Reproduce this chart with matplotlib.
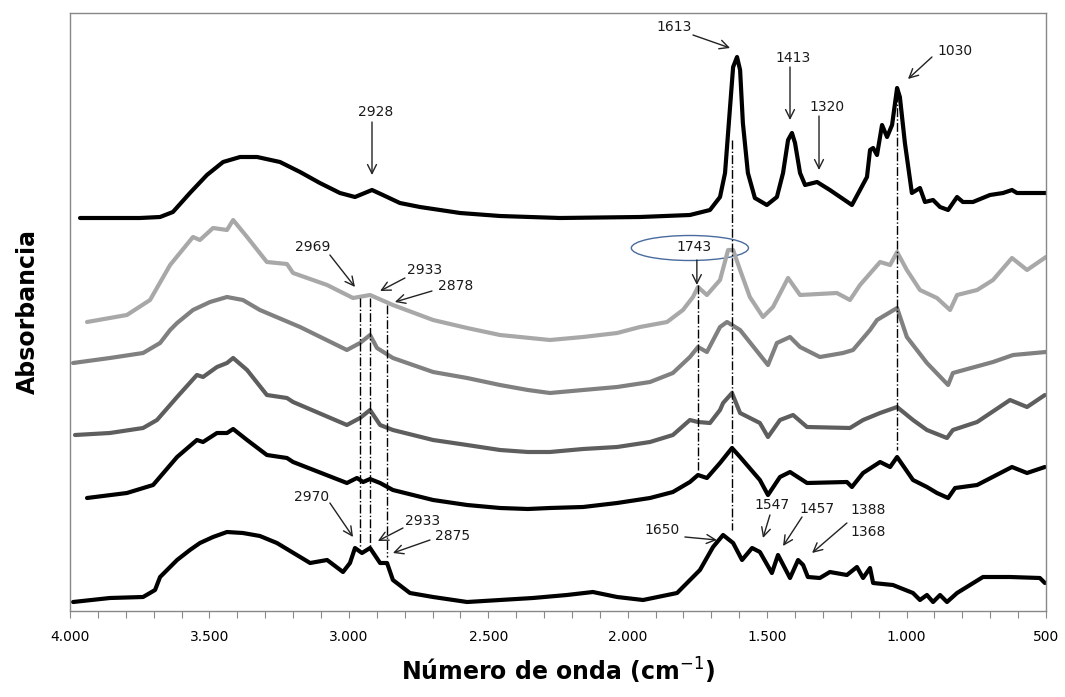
import numpy as np
import matplotlib
matplotlib.use("Agg")
import matplotlib.pyplot as plt
from matplotlib.patches import Ellipse
from matplotlib.ticker import MultipleLocator, FuncFormatter

# espectros FTIR (numero de onda en cm-1, absorbancia en u.a., desplazadas)
wn_1 = [3964, 3749, 3677, 3631, 3570, 3509, 3451, 3390, 3329, 3247, 3175, 3104, 3032, 2978,
        2917, 2878, 2817, 2745, 2601, 2458, 2243, 1956, 1777, 1705, 1669, 1651, 1633, 1622,
        1608, 1597, 1587, 1569, 1544, 1501, 1465, 1443, 1425, 1411, 1400, 1382, 1364, 1321,
        1275, 1196, 1167, 1142, 1131, 1120, 1106, 1088, 1070, 1052, 1034, 1024, 1006, 981,
        952, 934, 905, 880, 851, 819, 798, 762, 701, 654, 622, 604, 500]
abs_1 = [3.93, 3.93, 3.94, 3.99, 4.18, 4.36, 4.49, 4.54, 4.54, 4.49, 4.39, 4.28, 4.18, 4.14,
         4.21, 4.16, 4.08, 4.04, 3.98, 3.95, 3.93, 3.94, 3.96, 4.01, 4.14, 4.38, 5.04, 5.44,
         5.54, 5.41, 4.88, 4.38, 4.13, 4.06, 4.14, 4.38, 4.71, 4.78, 4.68, 4.38, 4.26, 4.29,
         4.21, 4.06, 4.21, 4.34, 4.61, 4.63, 4.56, 4.86, 4.74, 4.86, 5.23, 5.14, 4.68, 4.18,
         4.23, 4.09, 4.11, 4.04, 4.01, 4.14, 4.09, 4.09, 4.16, 4.18, 4.21, 4.18, 4.18]

wn_2 = [3939, 3796, 3713, 3641, 3559, 3534, 3487, 3437, 3415, 3365, 3294, 3222, 3200, 3078,
        2985, 2924, 2842, 2698, 2576, 2458, 2279, 2160, 2038, 1956, 1859, 1802, 1766, 1748,
        1716, 1669, 1640, 1622, 1597, 1562, 1515, 1479, 1425, 1382, 1250, 1203, 1167, 1095,
        1059, 1034, 999, 952, 891, 844, 819, 747, 690, 622, 568, 500]
abs_2 = [2.89, 2.96, 3.11, 3.46, 3.74, 3.71, 3.83, 3.81, 3.91, 3.74, 3.49, 3.47, 3.38, 3.26,
         3.13, 3.16, 3.06, 2.91, 2.83, 2.76, 2.71, 2.74, 2.78, 2.84, 2.89, 3.01, 3.14, 3.24,
         3.16, 3.31, 3.61, 3.61, 3.41, 3.14, 2.94, 3.04, 3.33, 3.16, 3.18, 3.11, 3.26, 3.49,
         3.46, 3.59, 3.41, 3.21, 3.13, 3.01, 3.16, 3.21, 3.31, 3.53, 3.41, 3.54]

wn_3 = [3989, 3857, 3738, 3677, 3641, 3616, 3559, 3498, 3437, 3380, 3319, 3175, 3007, 2960,
        2924, 2899, 2842, 2698, 2576, 2458, 2358, 2279, 2160, 2038, 1920, 1838, 1777, 1748,
        1716, 1669, 1644, 1597, 1497, 1465, 1418, 1382, 1311, 1228, 1192, 1131, 1106, 1034,
        999, 927, 851, 834, 690, 618, 500]
abs_3 = [2.48, 2.53, 2.58, 2.68, 2.81, 2.88, 3.01, 3.09, 3.14, 3.11, 3.01, 2.84, 2.61, 2.68,
         2.76, 2.63, 2.53, 2.39, 2.33, 2.26, 2.21, 2.18, 2.21, 2.24, 2.29, 2.38, 2.54, 2.64,
         2.59, 2.84, 2.89, 2.81, 2.46, 2.68, 2.74, 2.64, 2.54, 2.58, 2.61, 2.81, 2.91, 3.03,
         2.74, 2.48, 2.26, 2.38, 2.49, 2.56, 2.59]

wn_4 = [3982, 3857, 3738, 3688, 3616, 3545, 3523, 3473, 3437, 3415, 3365, 3294, 3222, 3200,
        3007, 2960, 2924, 2888, 2842, 2698, 2576, 2458, 2358, 2279, 2160, 2038, 1920, 1838,
        1777, 1748, 1705, 1669, 1658, 1626, 1597, 1526, 1497, 1454, 1407, 1357, 1203, 1156,
        1095, 1034, 977, 927, 855, 834, 747, 629, 568, 504]
abs_4 = [1.76, 1.78, 1.83, 1.91, 2.14, 2.36, 2.34, 2.44, 2.48, 2.53, 2.41, 2.16, 2.13, 2.09,
         1.86, 1.93, 2.01, 1.86, 1.81, 1.71, 1.66, 1.61, 1.59, 1.59, 1.62, 1.64, 1.69, 1.76,
         1.91, 1.89, 1.88, 2.01, 2.08, 2.18, 1.98, 1.88, 1.74, 1.91, 1.96, 1.84, 1.83, 1.91,
         1.98, 2.04, 1.91, 1.81, 1.73, 1.81, 1.89, 2.11, 2.04, 2.16]

wn_5 = [3939, 3796, 3702, 3616, 3545, 3523, 3473, 3437, 3415, 3365, 3294, 3222, 3200, 3007,
        2971, 2949, 2924, 2888, 2842, 2698, 2576, 2458, 2358, 2279, 2160, 2038, 1920, 1838,
        1777, 1748, 1716, 1669, 1626, 1597, 1526, 1497, 1454, 1418, 1357, 1214, 1196, 1156,
        1095, 1059, 1034, 977, 927, 891, 851, 826, 747, 622, 568, 504]
abs_5 = [1.13, 1.18, 1.26, 1.54, 1.71, 1.69, 1.78, 1.78, 1.82, 1.71, 1.56, 1.53, 1.49, 1.28,
         1.33, 1.29, 1.32, 1.28, 1.21, 1.11, 1.06, 1.03, 1.02, 1.03, 1.04, 1.08, 1.13, 1.19,
         1.29, 1.36, 1.33, 1.48, 1.63, 1.54, 1.31, 1.16, 1.34, 1.39, 1.28, 1.29, 1.24, 1.38,
         1.49, 1.44, 1.54, 1.31, 1.24, 1.18, 1.13, 1.23, 1.26, 1.44, 1.38, 1.44]

wn_6 = [3989, 3857, 3738, 3695, 3677, 3616, 3570, 3534, 3487, 3437, 3380, 3319, 3258, 3139,
        3078, 3021, 2996, 2978, 2953, 2924, 2888, 2863, 2842, 2781, 2698, 2576, 2458, 2340,
        2218, 2125, 2038, 1945, 1823, 1741, 1694, 1658, 1622, 1590, 1554, 1526, 1483, 1461,
        1418, 1389, 1371, 1354, 1311, 1275, 1214, 1178, 1156, 1131, 1120, 1049, 977, 952,
        927, 905, 880, 855, 819, 726, 629, 522, 504]
abs_6 = [0.09, 0.13, 0.14, 0.21, 0.34, 0.51, 0.61, 0.68, 0.74, 0.79, 0.78, 0.75, 0.68, 0.48,
         0.51, 0.39, 0.48, 0.63, 0.58, 0.63, 0.48, 0.48, 0.31, 0.18, 0.14, 0.09, 0.11, 0.13,
         0.16, 0.19, 0.14, 0.11, 0.18, 0.41, 0.64, 0.76, 0.68, 0.51, 0.63, 0.59, 0.38, 0.56,
         0.33, 0.51, 0.46, 0.34, 0.33, 0.39, 0.36, 0.44, 0.33, 0.43, 0.28, 0.26, 0.18, 0.11,
         0.16, 0.09, 0.16, 0.09, 0.18, 0.34, 0.34, 0.33, 0.28]

series = [(wn_1, abs_1, "black"), (wn_2, abs_2, "#a8a8a8"), (wn_3, abs_3, "#808080"),
          (wn_4, abs_4, "#5e5e5e"), (wn_5, abs_5, "black"), (wn_6, abs_6, "black")]

# lineas de referencia (posicion, y_inicio, y_fin)
ref_lines = [(2960, 3.13, 0.64), (2924, 3.13, 0.64), (2863, 3.06, 0.54),
             (1748, 3.26, 1.41), (1626, 4.71, 0.81), (1034, 5.18, 1.61)]

# etiquetas: texto, posicion del texto, cola y punta de flecha
labels = [("2928", (2903, 4.99), (2917, 4.89), (2917, 4.36)),
          ("1613", (1834, 5.84), (1766, 5.76), (1633, 5.63)),
          ("1413", (1407, 5.53), (1418, 5.44), (1418, 4.91)),
          ("1320", (1285, 5.04), (1314, 4.95), (1314, 4.41)),
          ("1030", (826, 5.60), (909, 5.54), (995, 5.32)),
          ("1743", (1762, 3.64), (1752, 3.51), (1752, 3.26)),
          ("2969", (3129, 3.64), (3068, 3.56), (2978, 3.24)),
          ("2933", (2727, 3.41), (2799, 3.33), (2888, 3.20)),
          ("2878", (2616, 3.25), (2702, 3.20), (2835, 3.09)),
          ("2970", (3132, 1.14), (3068, 1.08), (2985, 0.74)),
          ("2933", (2734, 0.90), (2806, 0.83), (2896, 0.70)),
          ("2875", (2627, 0.75), (2709, 0.71), (2842, 0.58)),
          ("1650", (1877, 0.81), (1795, 0.74), (1680, 0.71)),
          ("1547", (1483, 1.06), (1490, 0.96), (1515, 0.73)),
          ("1457", (1321, 1.02), (1375, 0.94), (1443, 0.65)),
          ("1388\n\n1368", (1138, 0.90), (1214, 0.88), (1339, 0.58))]

fig = plt.figure(figsize=(10.65, 6.97), dpi=100)
ax = fig.add_axes([70 / 1065, 86 / 697, 976 / 1065, 598 / 697])

for wn, a, c in series:
    ax.plot(wn, a, color=c, lw=3, solid_joinstyle="round", solid_capstyle="round")

for x, y0, y1 in ref_lines:
    ax.plot([x, x], [y0, y1], color="black", lw=1, ls="-.")

for txt, pos, tail, head in labels:
    ax.text(pos[0], pos[1], txt, ha="center", va="center", fontsize=10, color="#1a1a1a",
            linespacing=0.75)
    ax.annotate("", xy=head, xytext=tail,
                arrowprops=dict(arrowstyle="->", color="#222222", lw=1, mutation_scale=16,
                                shrinkA=0, shrinkB=0))

ax.add_patch(Ellipse((1777, 3.63), width=420, height=0.25, fill=False,
                     edgecolor="#4a6b9e", lw=1))

ax.set_xlim(4000, 500)
ax.set_ylim(0, 5.98)
ax.xaxis.set_major_locator(MultipleLocator(500))
ax.xaxis.set_minor_locator(MultipleLocator(100))
ax.xaxis.set_major_formatter(FuncFormatter(lambda v, p: f"{v:,.0f}".replace(",", ".")))
ax.tick_params(axis="x", which="both", direction="out", length=5, width=0.8, color="#888888")
ax.tick_params(axis="x", which="major", labelsize=10, pad=9)
for lab in ax.get_xticklabels():
    lab.set_family(["Liberation Sans Narrow", "DejaVu Sans"])
ax.set_yticks([])
for s in ax.spines.values():
    s.set_color("#888888")
    s.set_linewidth(1)

ax.set_xlabel("Número de onda (cm$^{-1}$)", fontsize=17, fontweight="bold", labelpad=8)
ax.set_ylabel("Absorbancia", fontsize=17, fontweight="bold", labelpad=22)

fig.savefig("out.png", dpi=100)
